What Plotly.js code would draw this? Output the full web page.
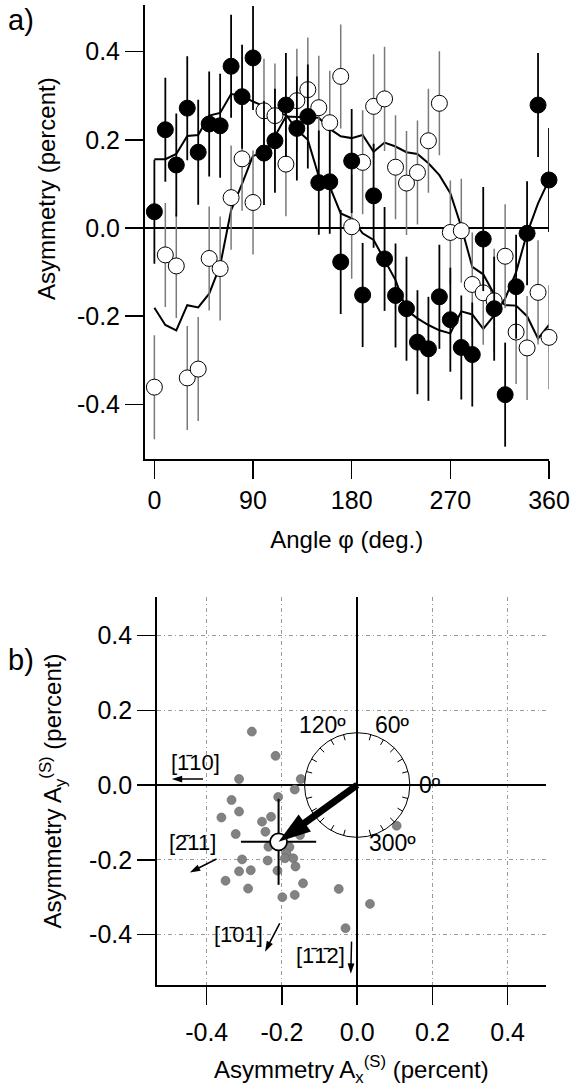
<!DOCTYPE html>
<html><head><meta charset="utf-8">
<script src="https://cdn.plot.ly/plotly-3.0.1.min.js"></script>
<style>html,body{margin:0;padding:0;background:#fff}#chart{width:574px;height:1088px}</style>
</head><body><div id="chart"></div>
<script>
// ---------- panel a data ----------
const angles = [0,10,20,30,40,50,60,70,80,90,100,110,120,130,140,150,160,170,180,190,200,210,220,230,240,250,260,270,280,290,300,310,320,330,340,350,360];
const filledAsym = [0.037,0.223,0.143,0.272,0.172,0.236,0.232,0.367,0.298,0.386,0.170,0.198,0.279,0.226,0.253,0.103,0.105,-0.077,0.152,-0.152,0.073,-0.070,-0.153,-0.183,-0.259,-0.274,-0.156,-0.208,-0.271,-0.287,-0.025,-0.183,-0.378,-0.133,-0.012,0.279,0.109];
const filledErr = [0.118,0.118,0.117,0.118,0.119,0.119,0.118,0.117,0.118,0.118,0.118,0.118,0.118,0.118,0.118,0.118,0.118,0.118,0.118,0.118,0.118,0.118,0.118,0.118,0.118,0.118,0.118,0.118,0.118,0.118,0.118,0.118,0.118,0.118,0.118,0.118,0.118];
const openAsym = [-0.361,-0.061,-0.086,-0.340,-0.320,-0.069,-0.092,0.069,0.157,0.058,0.266,0.255,0.145,0.289,0.314,0.273,0.239,0.344,0.003,0.149,0.276,0.293,0.138,0.102,0.126,0.198,0.283,-0.010,-0.006,-0.128,-0.147,-0.165,-0.064,-0.236,-0.272,-0.146,-0.248];
const openErr = [0.118,0.118,0.118,0.118,0.118,0.118,0.118,0.118,0.118,0.118,0.118,0.118,0.118,0.118,0.118,0.118,0.118,0.118,0.118,0.118,0.118,0.118,0.118,0.118,0.118,0.118,0.118,0.118,0.118,0.118,0.118,0.118,0.118,0.118,0.118,0.118,0.118];
const curveA = [0.156,0.156,0.168,0.209,0.211,0.255,0.261,0.304,0.300,0.287,0.276,0.260,0.257,0.223,0.200,0.117,0.094,0.033,0.022,-0.012,-0.027,-0.073,-0.118,-0.186,-0.205,-0.220,-0.232,-0.239,-0.189,-0.196,-0.229,-0.198,-0.160,-0.100,-0.012,0.056,0.109];
const curveB = [-0.181,-0.220,-0.232,-0.175,-0.180,-0.149,-0.085,0.040,0.100,0.164,0.170,0.208,0.253,0.252,0.252,0.250,0.225,0.208,0.204,0.211,0.173,0.194,0.185,0.172,0.168,0.147,0.120,0.079,0.003,-0.088,-0.105,-0.150,-0.175,-0.176,-0.200,-0.251,-0.220];
const angleTicks = [0,90,180,270,360];
const angleTickText = ['0','90','180','270','360'];
const asymTicks = [-0.4,-0.2,0,0.2,0.4];
const asymTickText = ['-0.4','-0.2','0.0','0.2','0.4'];

// ---------- panel b data ----------
const dotsAx = [-0.280,-0.217,-0.314,-0.150,-0.166,-0.210,-0.334,-0.314,-0.361,-0.229,-0.253,-0.244,-0.323,-0.152,0.105,-0.236,-0.180,-0.188,-0.170,-0.238,-0.306,-0.164,-0.212,-0.314,-0.283,-0.350,-0.290,-0.144,-0.049,-0.199,-0.166,0.034,-0.031,-0.192];
const dotsAy = [0.143,0.078,0.016,0.016,-0.012,-0.032,-0.040,-0.071,-0.087,-0.085,-0.098,-0.125,-0.131,-0.134,-0.109,-0.165,-0.166,-0.183,-0.196,-0.202,-0.199,-0.218,-0.229,-0.231,-0.228,-0.256,-0.277,-0.263,-0.278,-0.300,-0.294,-0.318,-0.383,-0.196];
const meanAx = [-0.209];
const meanAy = [-0.152];
const meanErrX = [0.100];
const meanErrY = [0.115];
const polarRadius = 0.14;
const polarLabels = ['120º','60º','0º','300º'];
const polarLabelX = [-0.025,0.041,0.159,0.026];
const polarLabelY = [0.160,0.160,0.0,-0.155];
const dirLabels = ['[1\u030410]','[2\u030411]','[1\u030401]','[1\u03041\u03042]'];
const dirLabelX = [-0.429,-0.437,-0.315,-0.097];
const dirLabelY = [0.059,-0.155,-0.401,-0.457];
const dirArrowFromX = [-0.410,-0.374,-0.206,-0.015];
const dirArrowFromY = [0.016,-0.198,-0.370,-0.419];
const dirArrowToX = [-0.493,-0.445,-0.245,-0.017];
const dirArrowToY = [0.016,-0.234,-0.446,-0.505];

const FONT = 'Liberation Sans, Arial, Helvetica, sans-serif';

const traces = [
  {x: angles, y: curveA, mode:'lines', line:{color:'#000', width:2}, xaxis:'x', yaxis:'y', hoverinfo:'skip'},
  {x: angles, y: curveB, mode:'lines', line:{color:'#000', width:2}, xaxis:'x', yaxis:'y', hoverinfo:'skip'},
  {x: angles, y: openAsym, mode:'markers', cliponaxis:false, xaxis:'x', yaxis:'y',
   marker:{size:16, color:'#fff', line:{color:'#000', width:1}},
   error_y:{type:'data', array: openErr, color:'#7a7a7a', thickness:1.5, width:0}},
  {x: angles, y: filledAsym, mode:'markers', cliponaxis:false, xaxis:'x', yaxis:'y',
   marker:{size:16, color:'#000', line:{color:'#000', width:1}},
   error_y:{type:'data', array: filledErr, color:'#000', thickness:1.8, width:0}},
  {x: dotsAx, y: dotsAy, mode:'markers', xaxis:'x2', yaxis:'y2',
   marker:{size:9, color:'#828282', line:{color:'#666', width:0.6}}},
  {x: meanAx, y: meanAy, mode:'markers', xaxis:'x2', yaxis:'y2', cliponaxis:false,
   marker:{size:17, color:'#fff', line:{color:'#000', width:1.8}},
   error_x:{type:'data', array: meanErrX, color:'#000', thickness:2, width:0},
   error_y:{type:'data', array: meanErrY, color:'#000', thickness:2, width:0}},
  // mean asymmetry vector from origin
  {x: [0, meanAx[0]], y: [0, meanAy[0]], mode:'lines+markers', xaxis:'x2', yaxis:'y2', cliponaxis:false,
   line:{color:'#000', width:7},
   marker:{symbol:'arrow', angleref:'previous', size:34, color:'#000', line:{width:0}}}
];
// crystal direction arrows
for (let i = 0; i < dirLabels.length; i++) {
  traces.push({x:[dirArrowFromX[i], dirArrowToX[i]], y:[dirArrowFromY[i], dirArrowToY[i]], mode:'lines+markers',
    xaxis:'x2', yaxis:'y2', cliponaxis:false, line:{color:'#000', width:1.5},
    marker:{symbol:'arrow', angleref:'previous', size:11, color:'#000', line:{width:0}}});
}

// polar dial shapes (circle + inward ticks every 15 deg)
const shapes = [{type:'circle', xref:'x2', yref:'y2', x0:-polarRadius, x1:polarRadius, y0:-polarRadius, y1:polarRadius, line:{color:'#000', width:1}}];
for (let a = 15; a < 360; a += 15) {
  if (a % 90 === 0) continue;
  const r = a * Math.PI / 180;
  shapes.push({type:'line', xref:'x2', yref:'y2',
    x0: polarRadius*Math.cos(r), y0: polarRadius*Math.sin(r),
    x1: (polarRadius-0.016)*Math.cos(r), y1: (polarRadius-0.016)*Math.sin(r),
    line:{color:'#000', width:1}});
}

const annotations = [
  {xref:'paper', yref:'paper', x:6/574, y:1-20/1088, xanchor:'left', yanchor:'middle', text:'a)', showarrow:false, font:{family:FONT, size:29, color:'#000'}},
  {xref:'paper', yref:'paper', x:6/574, y:1-660/1088, xanchor:'left', yanchor:'middle', text:'b)', showarrow:false, font:{family:FONT, size:29, color:'#000'}},
  {xref:'paper', yref:'paper', x:46/574, y:1-189/1088, xanchor:'center', yanchor:'middle', textangle:-90, text:'Asymmetry (percent)', showarrow:false, font:{family:FONT, size:24, color:'#000'}}
];
polarLabels.forEach((t,i) => {
  annotations.push({xref:'x2', yref:'y2', x: polarLabelX[i], y: polarLabelY[i], text:t, showarrow:false,
    xanchor: i===0 ? 'right' : 'left', yanchor:'middle', font:{family:FONT, size:23, color:'#000'}});
});
dirLabels.forEach((t,i) => {
  annotations.push({xref:'x2', yref:'y2', x: dirLabelX[i], y: dirLabelY[i], text:t, showarrow:false,
    xanchor:'center', yanchor:'middle', font:{family:FONT, size:22, color:'#000'}});
});

const axBase = {showline:true, linecolor:'#000', linewidth:1.5, ticks:'outside', ticklen:18, tickwidth:1.5, tickcolor:'#000',
  tickfont:{family:FONT, size:25, color:'#000'}, showgrid:false, zeroline:false, fixedrange:true};
const GRIDDASH = '4px,3px,1px,3px';

const layout = {
  width:574, height:1088, margin:{l:0, r:0, t:0, b:0}, showlegend:false,
  paper_bgcolor:'#fff', plot_bgcolor:'#fff', font:{family:FONT, color:'#000'},
  xaxis: Object.assign({}, axBase, {domain:[144.5/574, 549/574], range:[-9,360], anchor:'y',
    tickmode:'array', tickvals: angleTicks, ticktext: angleTickText,
    title:{text:'Angle φ (deg.)', font:{family:FONT, size:24, color:'#000'}, standoff:18}}),
  yaxis: Object.assign({}, axBase, {domain:[1-459/1088, 1-5/1088], range:[-0.524,0.506], anchor:'x',
    tickmode:'array', tickvals: asymTicks, ticktext: asymTickText, zeroline:true, zerolinecolor:'#000', zerolinewidth:1.5}),
  xaxis2: Object.assign({}, axBase, {domain:[156.7/574, 546/574], range:[-0.533,0.502], anchor:'y2',
    tickmode:'array', tickvals: asymTicks, ticktext: asymTickText, ticklabelstandoff:6,
    showgrid:true, gridcolor:'#9a9a9a', gridwidth:1, griddash:GRIDDASH, zeroline:true, zerolinecolor:'#000', zerolinewidth:1.5,
    title:{text:'Asymmetry A<sub>x</sub><sup>(S)</sup> (percent)', font:{family:FONT, size:24, color:'#000'}, standoff:16}}),
  yaxis2: Object.assign({}, axBase, {domain:[1-985/1088, 1-597/1088], range:[-0.535,0.503], anchor:'x2',
    tickmode:'array', tickvals: asymTicks, ticktext: asymTickText,
    showgrid:true, gridcolor:'#9a9a9a', gridwidth:1, griddash:GRIDDASH, zeroline:true, zerolinecolor:'#000', zerolinewidth:1.5,
    title:{text:'Asymmetry A<sub>y</sub><sup>(S)</sup> (percent)', font:{family:FONT, size:24, color:'#000'}, standoff:20}}),
  shapes: shapes,
  annotations: annotations
};

Plotly.newPlot('chart', traces, layout, {staticPlot:true, displayModeBar:false});
</script></body></html>
